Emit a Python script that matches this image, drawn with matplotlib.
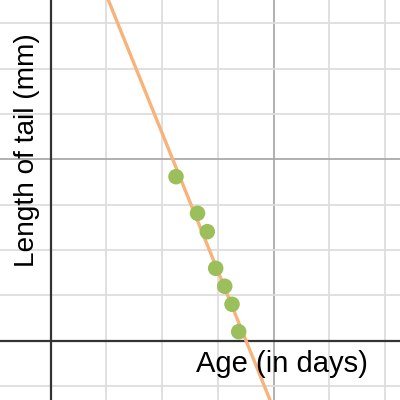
import matplotlib
matplotlib.use('Agg')
import matplotlib.pyplot as plt
import numpy as np

# Dados (unidades da grade)
age = [2.249, 2.635, 2.810, 2.961, 3.123, 3.254, 3.374]
tail = [3.617, 2.810, 2.404, 1.597, 1.200, 0.803, 0.198]

# Reta de tendência
line_slope = -3.040
line_intercept = 10.657

x_label = "Age (in days)"
y_label = "Length of tail (mm)"

plt.rcParams['font.family'] = ['Liberation Sans', 'DejaVu Sans']

fig = plt.figure(figsize=(4, 4), dpi=100)
ax = fig.add_axes([0, 0, 1, 1])
ax.set_xlim(-0.91, 6.269)
ax.set_ylim(-1.308, 7.514)

# Grade menor e maior
for gx in np.arange(-1, 7):
    if gx == 0:
        continue
    c = '#aaaaaa' if gx % 4 == 0 else '#dddddd'
    ax.axvline(gx, color=c, lw=1.3, zorder=0)
for gy in np.arange(-1, 8):
    if gy == 0:
        continue
    c = '#aaaaaa' if gy % 4 == 0 else '#dddddd'
    ax.axhline(gy, color=c, lw=1.3, zorder=0)

# Eixos
ax.axvline(0, color='#333333', lw=1.6, zorder=1)
ax.axhline(0, color='#333333', lw=1.6, zorder=1)

# Reta
xs = np.array(ax.get_xlim())
ax.plot(xs, line_slope * xs + line_intercept, color='#f8b27a', lw=2.4, zorder=2)

# Pontos
ax.scatter(age, tail, s=125, color='#9bbf5a', edgecolors='none', zorder=3)

ax.text(5.7, -0.2, x_label, fontsize=21, ha='right', va='top', color='black', zorder=4)
ax.text(-0.42, 4.2, y_label, fontsize=20.2, rotation=90, ha='center', va='center',
        color='black', zorder=4)

ax.set_xticks([])
ax.set_yticks([])
for s in ax.spines.values():
    s.set_visible(False)

plt.savefig('out.png', dpi=100)
plt.close()
